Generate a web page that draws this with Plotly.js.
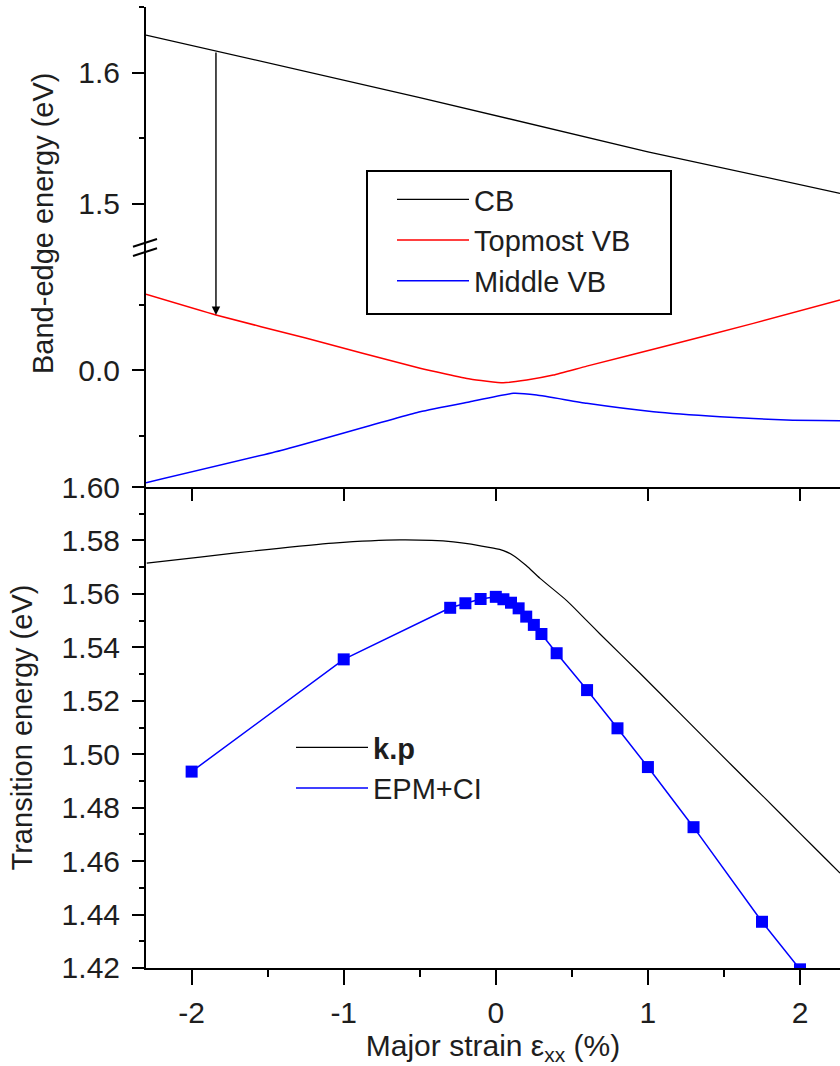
<!DOCTYPE html>
<html>
<head>
<meta charset="utf-8">
<script src="https://cdn.plot.ly/plotly-3.0.1.min.js"></script>
<style>
  html, body { margin: 0; padding: 0; background: #fff; overflow: hidden; }
  #chart { width: 840px; height: 1066px; }
</style>
</head>
<body>
<div id="chart"></div>
<script>
// ---------------- data ----------------
// Upper panel: band-edge energies vs major strain (%)
const cbStrain = [-2.30, -1.84, -0.50, 1.00, 2.263];
const cbEnergy = [1.6288, 1.6166, 1.5811, 1.5397, 1.5080];

const topVbStrain = [-2.30, -1.84, -1.25, -0.498, -0.17, 0.049, 0.203, 0.378, 0.598, 1.145, 1.693, 2.263];
const topVbEnergy = [0.0578, 0.0420, 0.0244, 0.0013, -0.0069, -0.0097, -0.0076, -0.0038, 0.0030, 0.0191, 0.0356, 0.0534];

const midVbStrain = [-2.30, -1.40, -0.498, -0.17, 0.115, 0.269, 0.598, 1.036, 1.474, 1.912, 2.263];
const midVbEnergy = [-0.0860, -0.0610, -0.0318, -0.0242, -0.0178, -0.0191, -0.0254, -0.0318, -0.0356, -0.0382, -0.0387];

// Lower panel: transition energies
const kpStrain = [-2.295, -1.945, -1.506, -1.070, -0.630, -0.279, -0.016, 0.05, 0.115, 0.20, 0.291, 0.466, 0.598, 0.685, 0.948, 1.211, 1.561, 1.781, 1.999, 2.175, 2.263];
const kpEnergy = [1.5715, 1.5738, 1.5766, 1.5790, 1.5802, 1.5795, 1.5771, 1.5762, 1.5744, 1.5706, 1.5658, 1.5575, 1.5500, 1.5450, 1.5303, 1.5153, 1.4953, 1.4829, 1.4705, 1.4605, 1.4555];

const epmStrain = [-2, -1, -0.3, -0.2, -0.1, 0, 0.05, 0.1, 0.15, 0.2, 0.25, 0.3, 0.4, 0.6, 0.8, 1.0, 1.3, 1.75, 2.0];
const epmEnergy = [1.4935, 1.5355, 1.5548, 1.5565, 1.5581, 1.5589, 1.5580, 1.5567, 1.5546, 1.5515, 1.5484, 1.5450, 1.5378, 1.5240, 1.5097, 1.4952, 1.4727, 1.4373, 1.4195];

// tick labels
const xTickVals = [-2, -1, 0, 1, 2];
const xTickText = ['-2', '-1', '0', '1', '2'];
const cbTickVals = [1.5, 1.6];
const cbTickText = ['1.5', '1.6'];
const vbTickVals = [0];
const vbTickText = ['0.0'];

// arrow position (strain at which the transition arrow is drawn)
const arrowStrain = -1.84;

// ---------------- layout helpers ----------------
const W = 840, H = 1066;
const M = {l: 146, r: 0, t: 7, b: 98};
const plotH = H - M.t - M.b;
const plotW = W - M.l - M.r;
const xRange = [-2.30, 2.263];
const dLow = [0, 0.5005];
const dVb = [0.5005, 0.7471];
const dCb = [0.7471, 1];
const rVb = [-0.0893, 0.0916];
const rCb = [1.4647, 1.6502];

function interp(xs, ys, x) {
  for (let i = 0; i < xs.length - 1; i++) {
    if (x >= xs[i] && x <= xs[i + 1]) {
      const t = (x - xs[i]) / (xs[i + 1] - xs[i]);
      return ys[i] + t * (ys[i + 1] - ys[i]);
    }
  }
  return ys[ys.length - 1];
}
function pix(v, dom, rng) {
  const f = dom[0] + (v - rng[0]) / (rng[1] - rng[0]) * (dom[1] - dom[0]);
  return M.t + (1 - f) * plotH;
}
const px = (p) => (p - M.l) / plotW;          // page x -> paper x
const py = (p) => (H - M.b - p) / plotH;      // page y -> paper y

const headVal = interp(topVbStrain, topVbEnergy, arrowStrain);
const tailVal = interp(cbStrain, cbEnergy, arrowStrain);
const arrowAy = pix(tailVal, dCb, rCb) - pix(headVal, dVb, rVb);

const FONT = 'Liberation Sans, Arial, Helvetica, sans-serif';
const TXT = '#1e1e1e';

const traces = [
  {x: cbStrain, y: cbEnergy, xaxis: 'x2', yaxis: 'y3', name: 'CB', mode: 'lines',
   line: {color: '#000000', width: 1.3}, legend: 'legend2'},
  {x: topVbStrain, y: topVbEnergy, xaxis: 'x2', yaxis: 'y2', name: 'Topmost VB', mode: 'lines',
   line: {color: '#ff0000', width: 1.5, shape: 'spline', smoothing: 0.4}, legend: 'legend2'},
  {x: midVbStrain, y: midVbEnergy, xaxis: 'x2', yaxis: 'y2', name: 'Middle VB', mode: 'lines',
   line: {color: '#0000ff', width: 1.5, shape: 'spline', smoothing: 0.4}, legend: 'legend2'},
  {x: kpStrain, y: kpEnergy, xaxis: 'x', yaxis: 'y', name: '<b>k.p</b>', mode: 'lines',
   line: {color: '#000000', width: 1.2, shape: 'spline', smoothing: 0.7}, legend: 'legend'},
  {x: epmStrain, y: epmEnergy, xaxis: 'x', yaxis: 'y', name: 'EPM+CI', mode: 'lines',
   line: {color: '#0000ff', width: 1.5}, legend: 'legend'},
  {x: epmStrain, y: epmEnergy, xaxis: 'x', yaxis: 'y', name: 'EPM+CI', mode: 'markers',
   marker: {symbol: 'square', size: 12, color: '#0000ff'}, showlegend: false}
];

const axCommon = {
  showline: true, linecolor: '#000', linewidth: 2,
  ticks: 'outside', tickcolor: '#000', tickwidth: 2,
  showgrid: false, zeroline: false,
  tickfont: {family: FONT, size: 30, color: TXT}
};

const layout = {
  width: W, height: H,
  margin: M,
  paper_bgcolor: '#fff', plot_bgcolor: 'rgba(0,0,0,0)',
  font: {family: FONT, color: TXT},
  showlegend: true,
  xaxis: Object.assign({}, axCommon, {
    domain: [0, 1], anchor: 'y', range: xRange,
    tickmode: 'array', tickvals: xTickVals, ticktext: xTickText,
    ticklen: 15, ticklabelstandoff: 2,
    minor: {tickvals: [-1.5, -0.5, 0.5, 1.5], ticklen: 7, tickwidth: 2, tickcolor: '#000', ticks: 'outside'},
    title: {text: 'Major strain ε<sub>xx</sub> (%)', font: {family: FONT, size: 30, color: TXT}, standoff: 6}
  }),
  yaxis: Object.assign({}, axCommon, {
    domain: dLow, anchor: 'x', range: [1.42, 1.60],
    tickmode: 'linear', tick0: 1.42, dtick: 0.02, tickformat: '.2f',
    ticklen: 12, ticklabelstandoff: 6,
    minor: {dtick: 0.01, ticklen: 5, tickwidth: 2, tickcolor: '#000', ticks: 'outside'},
    title: {text: 'Transition energy (eV)', font: {family: FONT, size: 29, color: TXT}, standoff: 20}
  }),
  xaxis2: Object.assign({}, axCommon, {
    domain: [0, 1], anchor: 'y2', range: xRange,
    tickmode: 'array', tickvals: xTickVals, ticklen: 12,
    showticklabels: false
  }),
  yaxis2: Object.assign({}, axCommon, {
    domain: dVb, anchor: 'x2', range: rVb,
    tickmode: 'array', tickvals: vbTickVals, ticktext: vbTickText,
    ticklen: 12, ticklabelstandoff: 6,
    minor: {tickvals: [-0.05, 0.05], ticklen: 5, tickwidth: 2, tickcolor: '#000', ticks: 'outside'}
  }),
  yaxis3: Object.assign({}, axCommon, {
    domain: dCb, anchor: 'x2', range: rCb,
    tickmode: 'array', tickvals: cbTickVals, ticktext: cbTickText,
    ticklen: 12, ticklabelstandoff: 6,
    minor: {tickvals: [1.55, 1.65], ticklen: 5, tickwidth: 2, tickcolor: '#000', ticks: 'outside'}
  }),
  legend2: {
    x: px(392), xanchor: 'left', y: py(174), yanchor: 'top',
    bgcolor: 'rgba(0,0,0,0)', borderwidth: 0,
    font: {family: FONT, size: 29, color: TXT},
    itemwidth: 72, tracegroupgap: 0
  },
  legend: {
    x: px(291), xanchor: 'left', y: py(722), yanchor: 'top',
    bgcolor: 'rgba(0,0,0,0)', borderwidth: 0,
    font: {family: FONT, size: 29, color: TXT},
    itemwidth: 72, tracegroupgap: 0
  },
  annotations: [
    {xref: 'x2', yref: 'y2', x: arrowStrain, y: headVal,
     axref: 'pixel', ayref: 'pixel', ax: 0, ay: arrowAy,
     showarrow: true, arrowhead: 2, arrowsize: 1.2, arrowwidth: 1.4, arrowcolor: '#000', text: ''},
    {xref: 'paper', yref: 'paper', x: px(43), y: py(224), xanchor: 'center', yanchor: 'middle',
     textangle: -90, showarrow: false, text: 'Band-edge energy (eV)',
     font: {family: FONT, size: 29, color: TXT}}
  ],
  shapes: [
    // legend frame of the upper panel
    {type: 'rect', xref: 'paper', yref: 'paper', x0: px(367), x1: px(671), y0: py(314), y1: py(171),
     line: {color: '#000', width: 2}, fillcolor: 'rgba(255,255,255,0)', layer: 'below'},
    // axis-break marks
    {type: 'line', xref: 'paper', yref: 'paper', x0: px(133), x1: px(157),
     y0: py(246.7), y1: py(239), line: {color: '#000', width: 2}},
    {type: 'line', xref: 'paper', yref: 'paper', x0: px(133), x1: px(157),
     y0: py(256), y1: py(248.3), line: {color: '#000', width: 2}}
  ]
};

Plotly.newPlot('chart', traces, layout, {displayModeBar: false, staticPlot: true});
</script>
</body>
</html>
